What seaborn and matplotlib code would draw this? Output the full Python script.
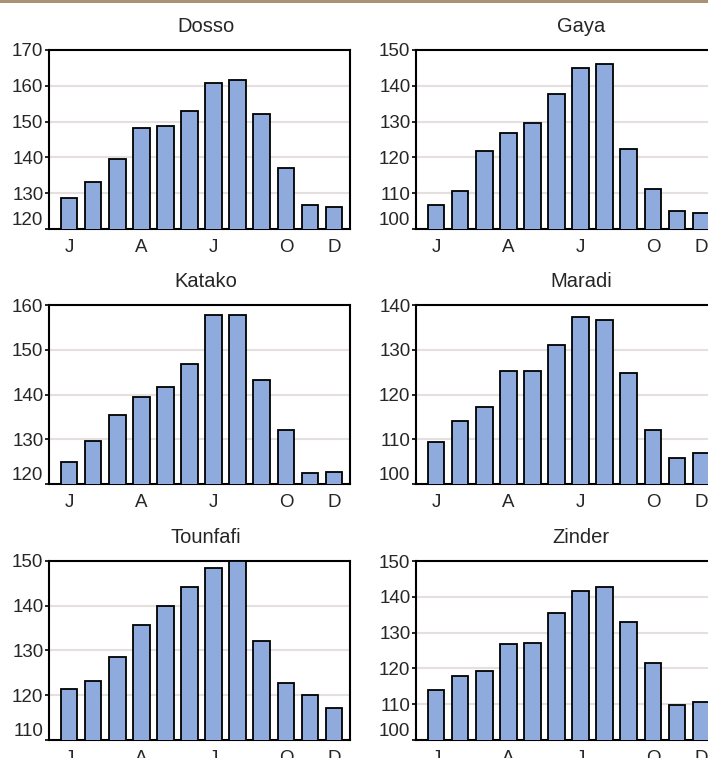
import numpy as np
import pandas as pd
import matplotlib
matplotlib.use("Agg")
import matplotlib.pyplot as plt
from matplotlib.patches import Rectangle
import seaborn as sns

# ---------------- data ----------------
months = ["Jan", "Feb", "Mar", "Apr", "May", "Jun",
          "Jul", "Aug", "Sep", "Oct", "Nov", "Dec"]
tick_months = ["Jan", "Apr", "Jul", "Oct", "Dec"]
tick_labels = ["J", "A", "J", "O", "D"]

stations = ["Dosso", "Gaya", "Katako", "Maradi", "Tounfafi", "Zinder"]

dosso = [128.6, 133.2, 139.5, 148.2, 148.7, 153.1, 160.8, 161.7, 152.0, 137.0, 126.7, 126.2]
gaya = [106.8, 110.7, 121.8, 126.7, 129.6, 137.7, 145.0, 146.0, 122.3, 111.1, 104.9, 104.4]
katako = [125.0, 129.7, 135.5, 139.4, 141.7, 146.8, 157.8, 157.8, 143.2, 132.1, 122.4, 122.7]
maradi = [109.3, 114.0, 117.1, 125.2, 125.2, 131.1, 137.4, 136.6, 124.9, 112.1, 105.9, 107.0]
tounfafi = [121.5, 123.2, 128.5, 135.6, 139.9, 144.3, 148.5, 149.9, 132.2, 122.8, 120.1, 117.2]
zinder = [114.0, 117.9, 119.4, 126.7, 127.1, 135.4, 141.7, 142.7, 133.0, 121.4, 109.7, 110.6]

series = [dosso, gaya, katako, maradi, tounfafi, zinder]
y_min = [120, 100, 120, 100, 110, 100]
y_max = [170, 150, 160, 140, 150, 150]

# ---------------- style ----------------
sns.set_style("white")
plt.rcParams["font.family"] = ["Liberation Sans", "DejaVu Sans"]

W, H = 708, 758
fig = plt.figure(figsize=(W / 100, H / 100), dpi=100)

bar_color = "#8faadc"
grid_color = "#e6dfdf"
fs = 13.5

col_left = [49, 416]
ax_w = 301
row_top = [50, 305, 561]
ax_h = 179
title_x = [0.52, 0.548]

for i, (name, vals) in enumerate(zip(stations, series)):
    r, c = divmod(i, 2)
    left = col_left[c] / W
    bottom = 1 - (row_top[r] + ax_h) / H
    ax = fig.add_axes([left, bottom, ax_w / W, ax_h / H])
    df = pd.DataFrame({"month": months, "value": vals})
    sns.barplot(data=df, x="month", y="value", order=months, ax=ax,
                color=bar_color, saturation=1, width=0.69,
                edgecolor="black", linewidth=1.3, zorder=3)
    ax.set_xlim(-0.83, 11.66)
    ax.set_ylim(y_min[i], y_max[i])
    yt = np.arange(y_min[i], y_max[i] + 1, 10)
    ax.set_yticks(yt)
    ax.set_yticklabels([str(v) for v in yt])
    labs = ax.get_yticklabels()
    labs[0].set_verticalalignment("bottom")
    for g in yt[1:-1]:
        ax.axhline(g, color=grid_color, lw=1.5, zorder=1)
    pos = [months.index(m) for m in tick_months]
    ax.set_xticks(pos)
    ax.set_xticklabels(tick_labels)
    ax.set_xticks(range(len(months)), minor=True)
    ax.tick_params(axis="x", which="major", length=5, width=1.2,
                   direction="out", labelsize=fs, pad=2, color="black")
    ax.tick_params(axis="x", which="minor", length=2.5, width=1.2,
                   direction="out", color="black")
    ax.tick_params(axis="y", which="major", length=3, width=1.2,
                   direction="out", labelsize=fs, pad=1, color="black", left=True)
    ax.set_xlabel("")
    ax.set_ylabel("")
    for s in ax.spines.values():
        s.set_visible(True)
        s.set_color("black")
        s.set_linewidth(1.5)
    ax.set_title(name, fontsize=14.5, x=title_x[c], pad=13)

fig.add_artist(Rectangle((0, 1 - 2.5 / H), 1, 2.5 / H, transform=fig.transFigure,
                         color="#a89474", lw=0))

fig.savefig("out.png", dpi=100)
